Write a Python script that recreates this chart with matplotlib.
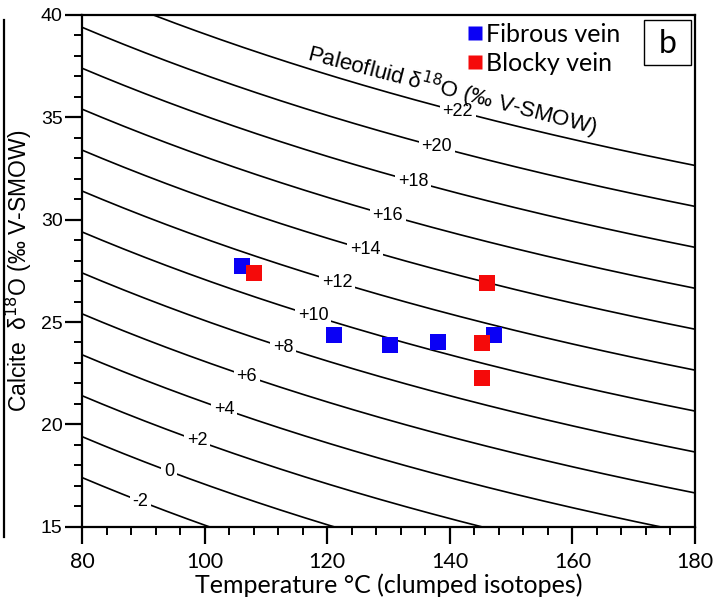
#!/usr/bin/env python3
"""Calcite d18O vs clumped-isotope temperature with paleofluid d18O isolines."""
import matplotlib as mpl
import matplotlib.pyplot as plt
import numpy as np
from matplotlib.lines import Line2D
from matplotlib.patches import Rectangle
from matplotlib.ticker import MultipleLocator

OUT = "out.png"

# Samples: temperature (deg C), calcite d18O (permil V-SMOW)
FIBROUS_T = [106.1, 121.1, 130.2, 138.1, 147.2]
FIBROUS_D18O = [27.74, 24.37, 23.87, 24.02, 24.37]
BLOCKY_T = [108.1, 145.3, 145.3, 146.1]
BLOCKY_D18O = [27.38, 23.97, 22.26, 26.90]

# Paleofluid isolines (permil V-SMOW) and where their labels sit (deg C)
FLUID_LEVELS = [-2, 0, 2, 4, 6, 8, 10, 12, 14, 16, 18, 20, 22]
LABEL_T = [89.5, 94.2, 98.8, 103.2, 106.9, 112.8, 117.7, 121.6, 126.2, 129.9, 134.0, 137.9, 141.3]

# Friedman & O'Neil (1977) calcite-water: 1000 ln a = A * 1e6 / T^2 + B
FO_A = 2.78
FO_B = -2.89

BLUE = "#0a00f5"
RED = "#f50a0a"
SANS = ["Liberation Sans", "DejaVu Sans"]
MYRIAD = ["Lato", "DejaVu Sans"]


def calcite_from_fluid(t_c, fluid):
    tk = np.asarray(t_c, dtype=float) + 273.15
    return fluid + FO_A * 1e6 / tk**2 + FO_B


def label_text(level):
    return f"+{level}" if level > 0 else str(level)


def main():
    mpl.rcParams.update({"font.family": SANS, "axes.linewidth": 1.6})
    fig = plt.figure(figsize=(7.16, 6.0), dpi=100)
    ax = fig.add_axes([0.1145, 0.1222, 0.8562, 0.8528])

    t = np.linspace(80, 180, 400)
    for level, lt in zip(FLUID_LEVELS, LABEL_T):
        ax.plot(t, calcite_from_fluid(t, level), color="black", lw=1.2, zorder=2)
        ax.text(lt, float(calcite_from_fluid(lt, level)), label_text(level),
                ha="center", va="center", fontsize=13, zorder=3,
                bbox=dict(facecolor="white", edgecolor="none", pad=1.8))

    ax.scatter(FIBROUS_T, FIBROUS_D18O, marker="s", s=130, color=BLUE, linewidths=0, zorder=5)
    ax.scatter(BLOCKY_T, BLOCKY_D18O, marker="s", s=130, color=RED, linewidths=0, zorder=5)

    ax.text(0.604, 0.852, "Paleofluid δ$^{18}$O (‰ V-SMOW)", transform=ax.transAxes,
            ha="center", va="center", rotation=-14.5, fontsize=16, zorder=4)

    handles = [
        Line2D([], [], ls="none", marker="s", ms=10, mfc=BLUE, mec="none", label="Fibrous vein"),
        Line2D([], [], ls="none", marker="s", ms=10, mfc=RED, mec="none", label="Blocky vein"),
    ]
    ax.legend(handles=handles, loc="upper left", bbox_to_anchor=(0.629, 0.985), frameon=False,
              handlelength=0.6, handletextpad=0.15, labelspacing=0.25, borderaxespad=0,
              borderpad=0, prop={"family": MYRIAD, "size": 18})

    ax.add_patch(Rectangle((0.9168, 0.902), 0.0767, 0.088, transform=ax.transAxes,
                           facecolor="white", edgecolor="black", lw=1.0, zorder=6))
    ax.text(0.955, 0.944, "b", transform=ax.transAxes, ha="center", va="center",
            fontsize=23, family=MYRIAD, zorder=7)

    ax.set_xlim(80, 180)
    ax.set_ylim(15, 40)
    ax.xaxis.set_major_locator(MultipleLocator(20))
    ax.xaxis.set_minor_locator(MultipleLocator(4))
    ax.yaxis.set_major_locator(MultipleLocator(5))
    ax.yaxis.set_minor_locator(MultipleLocator(1))
    ax.tick_params(which="major", direction="out", length=12, width=1.6)
    ax.tick_params(which="minor", direction="out", length=6, width=1.4)
    ax.tick_params(axis="y", labelsize=14, pad=2)
    ax.tick_params(axis="x", labelsize=15.5, pad=6)
    for lab in ax.get_xticklabels():
        lab.set_family(MYRIAD)

    ax.set_xlabel("Temperature °C (clumped isotopes)", fontsize=18, family=MYRIAD, labelpad=1)
    ax.set_ylabel("Calcite  δ$^{18}$O (‰ V-SMOW)", fontsize=16.5)
    ax.yaxis.set_label_coords(-0.078, 0.5)

    # edge of the neighbouring panel left in the crop
    fig.add_artist(Line2D([0.0055, 0.0055], [1 - 20 / 600, 1 - 537 / 600], color="black", lw=1.6,
                          transform=fig.transFigure))

    fig.savefig(OUT, dpi=100)


if __name__ == "__main__":
    main()
